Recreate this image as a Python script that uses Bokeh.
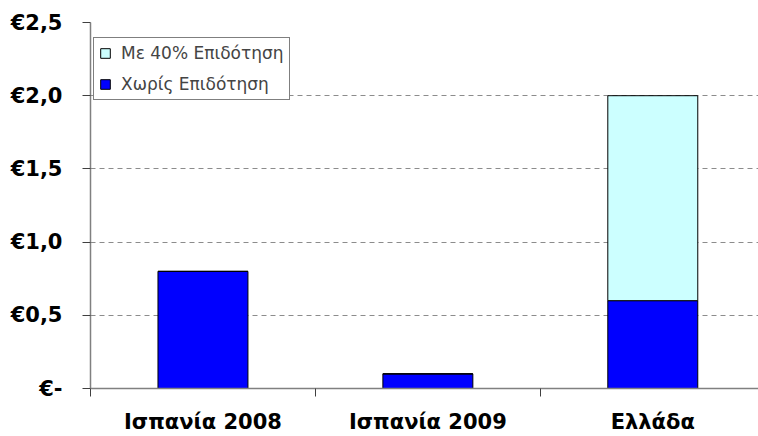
from bokeh.plotting import figure
from bokeh.models import (ColumnDataSource, Range1d, FixedTicker, Legend, LegendItem)
from bokeh.embed import file_html
from bokeh.resources import INLINE

# ---- data ----
categories = ["Ισπανία 2008", "Ισπανία 2009", "Ελλάδα"]
without_subsidy = [0.8, 0.1, 0.6]          # Χωρίς Επιδότηση
with_40_subsidy_extra = [0.0, 0.0, 1.4]    # Με 40% Επιδότηση (stacked on top)
series_names = ["Χωρίς Επιδότηση", "Με 40% Επιδότηση"]
y_ticks = [0, 0.5, 1.0, 1.5, 2.0, 2.5]
y_tick_labels = ["€-", "€0,5", "€1,0", "€1,5", "€2,0", "€2,5"]

x_pos = [i + 0.5 for i in range(len(categories))]
source = ColumnDataSource(dict(x=x_pos, without=without_subsidy, with40=with_40_subsidy_extra))

p = figure(width=758, height=436, output_backend="svg", toolbar_location=None,
           x_range=Range1d(0, 2.97), y_range=Range1d(0, 2.5),
           min_border_left=90, min_border_right=0, min_border_top=22, min_border_bottom=48)
p.outline_line_color = None
p.background_fill_color = "white"
p.border_fill_color = "white"

rs = p.vbar_stack(["without", "with40"], x="x", width=0.4, source=source,
                  fill_color=["#0000FF", "#CCFFFF"], line_color="black", line_width=1)

# x axis: labels at category centres, ticks at boundaries
p.xaxis.ticker = FixedTicker(ticks=x_pos, minor_ticks=list(range(len(categories) + 1)))
p.xaxis.major_label_overrides = {x: c for x, c in zip(x_pos, categories)}
p.xaxis.major_tick_out = 0
p.xaxis.major_tick_in = 0
p.xaxis.minor_tick_out = 8
p.xaxis.minor_tick_in = 0
p.xaxis.minor_tick_line_color = "#404040"
p.xaxis.axis_line_color = "#808080"
p.xaxis.axis_line_width = 1.5
p.xaxis.major_label_standoff = 13
p.xaxis.major_label_text_font = "DejaVu Sans"
p.xaxis.major_label_text_font_style = "bold"
p.xaxis.major_label_text_font_size = "21px"
p.xaxis.major_label_text_color = "black"

# y axis
p.yaxis.ticker = FixedTicker(ticks=y_ticks, minor_ticks=[])
p.yaxis.major_label_overrides = {t: l for t, l in zip(y_ticks, y_tick_labels)}
p.yaxis.major_tick_out = 8
p.yaxis.major_tick_in = 0
p.yaxis.major_tick_line_color = "#404040"
p.yaxis.axis_line_color = "#808080"
p.yaxis.axis_line_width = 1.5
p.yaxis.major_label_standoff = 20
p.yaxis.major_label_text_font = "DejaVu Sans"
p.yaxis.major_label_text_font_style = "bold"
p.yaxis.major_label_text_font_size = "21px"
p.yaxis.major_label_text_color = "black"

p.xgrid.grid_line_color = None
p.ygrid.grid_line_color = "#8c8c8c"
p.ygrid.grid_line_dash = "5 4"
p.ygrid.grid_line_width = 1

legend = Legend(items=[LegendItem(label=series_names[1], renderers=[rs[1]]),
                       LegendItem(label=series_names[0], renderers=[rs[0]])],
                location=(3, 288), orientation="vertical",
                glyph_width=12, glyph_height=12, label_height=20, spacing=11,
                padding=5, margin=0, label_standoff=10,
                label_text_font="DejaVu Sans", label_text_font_size="17px",
                border_line_color="black", border_line_width=1,
                background_fill_color="white", background_fill_alpha=1)
p.add_layout(legend)

open("out.html", "w").write(file_html(p, INLINE))
